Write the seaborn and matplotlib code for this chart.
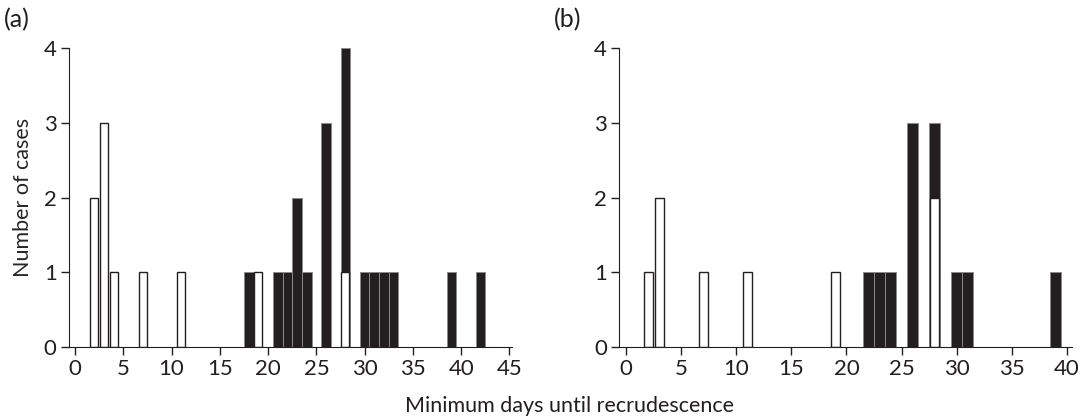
import numpy as np
import pandas as pd
import matplotlib
matplotlib.use("Agg")
import matplotlib.pyplot as plt
import seaborn as sns

# panel (a)
a_white_days = [2, 3, 4, 7, 11, 19, 28]
a_white_counts = [2, 3, 1, 1, 1, 1, 1]
a_black_days = [18, 21, 22, 23, 24, 26, 28, 30, 31, 32, 33, 39, 42]
a_black_counts = [1, 1, 1, 2, 1, 3, 3, 1, 1, 1, 1, 1, 1]

# panel (b)
b_white_days = [2, 3, 7, 11, 19, 28]
b_white_counts = [1, 2, 1, 1, 1, 2]
b_black_days = [22, 23, 24, 26, 28, 30, 31, 39]
b_black_counts = [1, 1, 1, 3, 1, 1, 1, 1]

dark = "#231f20"

sns.set_style("ticks")
plt.rcParams["font.family"] = ["Lato", "DejaVu Sans"]
plt.rcParams["axes.edgecolor"] = dark
plt.rcParams["xtick.color"] = dark
plt.rcParams["ytick.color"] = dark
plt.rcParams["text.color"] = dark


def draw_panel(ax, wd, wc, bd, bc, xmax, xticks):
    white = pd.DataFrame({"day": wd, "n": wc})
    black = pd.DataFrame({"day": bd, "n": bc})
    # black bars drawn at full stacked height, white ones drawn over the bottom
    stack = black.merge(white, on="day", how="left", suffixes=("", "_w")).fillna(0)
    stack["total"] = stack["n"] + stack["n_w"]
    sns.barplot(data=stack, x="day", y="total", native_scale=True, width=1.0,
                color=dark, edgecolor="#8a8a8a", linewidth=0.7, saturation=1,
                ax=ax)
    sns.barplot(data=white, x="day", y="n", native_scale=True, width=0.82,
                color="white", edgecolor=dark, linewidth=1.0, saturation=1,
                ax=ax)
    ax.set_xlim(-0.6, xmax)
    ax.set_ylim(0, 4)
    ax.set_xticks(xticks)
    ax.set_yticks([0, 1, 2, 3, 4])
    ax.set_xlabel("")
    ax.set_ylabel("")
    sns.despine(ax=ax)
    ax.tick_params(labelsize=16, length=6, width=1, pad=3)


fig = plt.figure(figsize=(10.81, 4.19), dpi=100)
ax1 = fig.add_axes([0.064, 0.172, 0.41, 0.713])
ax2 = fig.add_axes([0.573, 0.172, 0.419, 0.713])

draw_panel(ax1, a_white_days, a_white_counts, a_black_days, a_black_counts,
           45.3, range(0, 46, 5))
draw_panel(ax2, b_white_days, b_white_counts, b_black_days, b_black_counts,
           40.5, range(0, 41, 5))

ax1.set_ylabel("Number of cases", fontsize=15.5)
ax1.yaxis.set_label_coords(-0.082, 0.5)
fig.text(0.004, 0.952, "(a)", fontsize=18, va="center")
fig.text(0.512, 0.952, "(b)", fontsize=18, va="center")
fig.text(0.527, 0.03, "Minimum days until recrudescence", fontsize=15.5,
         ha="center", va="center")

fig.savefig("out.png", dpi=100)
